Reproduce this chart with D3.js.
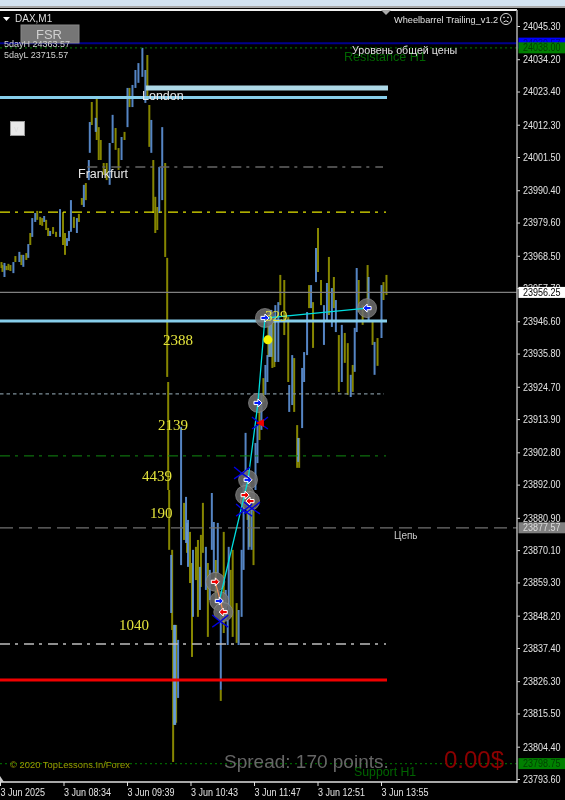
<!DOCTYPE html>
<html>
<head>
<meta charset="utf-8">
<title>DAX,M1</title>
<script src="https://cdnjs.cloudflare.com/ajax/libs/d3/7.8.5/d3.min.js"></script>
<style>
  html, body { margin: 0; padding: 0; background: #000; }
  svg { display: block; filter: blur(0.35px); }
  text { font-family: "Liberation Sans", sans-serif; }
  .num { font-family: "Liberation Serif", serif; }
</style>
</head>
<body>
<svg width="565" height="800"></svg>
<script>
// [minute from chart start, high, low]
const upBars = [
  [4,23966.1,23961.4],[13,23966.4,23962.7],[19,23969.8,23966.4],[23,23968.8,23964.8],[28,23972.4,23967.8],
  [32,23981.1,23974.8],[35,23982.8,23979.8],[44,23981.8,23979.8],[50,23976.8,23975.1],[60,23984.1,23974.8],
  [67,23974.4,23971.8],[69,23976.8,23973.4],[71,23987.1,23976.5],[77,23981.1,23976.1],[84,23992.2,23984.8],
  [89,24000.5,23993.8],[90,24013.2,24002.9],[96,24014.6,24009.9],[110,24006.2,23992.2],[113,24015.6,24006.2],
  [122,24008.2,24000.5],[128,24024.6,24011.5],[133,24025.6,24018.2],[136,24030.6,24024.6],[139,24032.9,24026.3],
  [143,24038,24028.3],[146,24030.6,24019.6],[152,24013.9,24002.9],[160,23998.2,23982.8],[163,24011.5,23987.1],
  [172,23868.5,23849.1],[175,23845.1,23811.7],[176,23845.1,23811.7],[179,23840.1,23820.7],[182,23911.3,23865.1],
  [187,23887.9,23872.5],[189,23880.2,23864.5],
  [194,23870.2,23847.8],[201,23864.5,23850.1],[207,23871.2,23856.8],[211,23863.5,23853.4],[213,23889.2,23870.2],
  [215,23879.5,23862.5],[219,23879.2,23862.5],[222,23853.4,23823.4],[227,23856.8,23846.8],[229,23846.8,23838.4],
  [230,23871.2,23850.1],[240,23850.1,23838.4],[243,23870.2,23847.8],[245,23892.6,23863.5],[247,23909.3,23890.2],
  [250,23886.9,23870.2],[253,23884.5,23870.2],[257,23905.9,23890.2],[259,23911.9,23899.2],[263,23922,23910.3],
  [267,23932,23922],[269,23935.3,23926.3],[271,23950.4,23934.7],[273,23950.4,23934.7],[277,23952,23933],[280,23953,23933],
  [291,23925.3,23916.3],[294,23935.3,23918.6],[300,23907.6,23899.6],[304,23931,23910.9],[306,23936.3,23926.3],
  [309,23949.7,23935.3],[313,23958.7,23951],[318,23971.1,23959.7],[326,23952,23938.7],[329,23959.4,23946.4],
  [334,23957.7,23944.7],[338,23953.7,23943],[344,23945.4,23926.3],[353,23928.7,23921.3],[357,23944.4,23929.7],
  [359,23964.4,23943],[371,23961.4,23946.4],[377,23939.7,23928.7],[384,23958.7,23941]
];
const downBars = [
  [1,23966.4,23964.4],[2,23965.4,23963.1],[6,23965.1,23963.7],[8,23965.8,23963.7],[10,23965.4,23963.4],
  [15,23968.4,23966.4],[21,23968.8,23965.4],[26,23969.4,23967.1],[30,23976.1,23972.1],[37,23983.5,23980.5],
  [40,23981.5,23978.8],[42,23981.1,23978.5],[46,23980.5,23977.1],[48,23977.8,23975.1],[53,23978.1,23975.8],
  [56,23976.5,23974.8],[63,23983.1,23972.1],[65,23976.1,23968.8],[74,23981.5,23977.8],[79,23982.5,23979.8],
  [82,23987.8,23985.5],[86,23992.8,23987.1],[92,24019.9,24012.2],[97,24020.9,24007.2],[99,24011.5,24000.5],
  [101,24007.2,24000.5],[104,23999.5,23995.5],[107,23999.5,23993.8],[116,24011.2,24003.9],[119,24004.5,23997.2],
  [125,24009.9,24007.2],[130,24024.6,24018.2],[148,24035.6,24021.6],[150,24018.9,24004.9],[154,24000.5,23982.8],
  [156,23988.2,23976.1],[158,23984.8,23977.1],[166,23999.5,23968.1],[168,23967.8,23928],[169,23926.3,23890.2],
  [170,23890.2,23870.2],[173,23870.2,23843.4],[174,23843.4,23799.3],[175,23845.1,23811.7],[176,23845.1,23811.7],
  [177,23845.1,23812.4],[185,23885.9,23873.5],[188,23879.2,23869.2],[191,23876.2,23859.1],[193,23865.8,23834.4],
  [197,23871.2,23860.1],[199,23873.5,23847.8],[202,23875.2,23857.8],[204,23885.9,23869.2],[209,23865.8,23841.1],
  [217,23866.8,23853.4],[222,23823.4,23819.7],[225,23876.2,23842.4],[232,23863.5,23847.8],[234,23870.2,23841.1],
  [238,23852.4,23839.1],[249,23896.9,23880.2],[251,23892.6,23871.2],[255,23887.9,23865.1],[261,23920.3,23906.9],
  [265,23927.6,23919.6],[270,23950.4,23934.7],[272,23950.4,23934.7],[274,23947.7,23931],[276,23947,23931.3],
  [282,23962.1,23952],[286,23960.4,23942],[290,23948,23926.3],[296,23934.3,23916.3],[299,23911.9,23897.6],
  [301,23907.6,23897.6],[311,23958.7,23951],[315,23953,23937.7],[320,23977.8,23963.1],[323,23960.4,23952],
  [331,23968.1,23948.7],[336,23961.4,23951],[341,23942,23923],[347,23942.7,23932.7],[350,23939.3,23922],
  [355,23932,23923],[361,23960.4,23949.7],[365,23952,23945.4],[370,23965.4,23952],[375,23946.4,23938.7],
  [380,23941,23931.7],[386,23959.7,23953.7],[389,23962.1,23955.4]
];

const priceTicks = [24045.3, 24034.2, 24023.4, 24012.3, 24001.5, 23990.4, 23979.6, 23968.5, 23957.7, 23946.6,
  23935.8, 23924.7, 23913.9, 23902.8, 23892.0, 23880.9, 23870.1, 23859.3, 23848.2, 23837.4, 23826.3, 23815.5,
  23804.4, 23793.6];
const timeTicks = [0, 64, 128, 192, 256, 320, 384];
const timeLabels = ['3 Jun 2025', '3 Jun 08:34', '3 Jun 09:39', '3 Jun 10:43', '3 Jun 11:47', '3 Jun 12:51', '3 Jun 13:55'];

// horizontal levels
const blueLevel = 24039.57;
const resistance = 24038.0;
const londonLevel = 24024.6;
const topLevel = 24021.4;
const greyLevel = 23998.2;
const yellowLevel = 23983.1;
const bidLevel = 23956.25;
const midLevel = 23946.7;
const dottedLevel = 23922.3;
const greenLevel = 23901.6;
const targetLevel = 23877.57;
const lightLevel = 23838.7;
const redLevel = 23826.7;
const support = 23798.75;

// trades
const tradeMinutes = [267, 370, 260, 250, 247, 252, 217, 221, 225];
const tradePrices = [23947.7, 23951.0, 23919.3, 23893.6, 23888.5, 23886.5, 23859.5, 23853.1, 23849.4];
const tradeSides = ['buy', 'buy', 'buy', 'buy', 'sell', 'sell', 'sell', 'buy', 'sell'];
const tradeDirs = [1, -1, 1, 1, 1, -1, 1, 1, -1];
const pathMinutes = [221, 250, 260, 267, 370];
const pathPrices = [23853.1, 23893.6, 23919.3, 23947.7, 23951.0];
const crossMinutes = [262, 222, 246, 254, 244];
const crossPrices = [23912.6, 23846.4, 23883.5, 23884.2, 23895.9];
const stopMinute = 270;
const stopPrice = 23940.4;

const svg = d3.select('svg');
const chartRight = 517;
const chartBottom = 782;

const x = d3.scaleLinear().domain([0, 384]).range([0, 381]);
const y = d3.scaleLinear().domain([23793.6, 24045.3]).range([779, 26]);

svg.append('rect').attr('width', 565).attr('height', 800).attr('fill', '#000');

// window chrome on top
svg.append('rect').attr('width', 565).attr('height', 6).attr('fill', '#d3e3f1');
svg.append('rect').attr('y', 6).attr('width', 565).attr('height', 2).attr('fill', '#a8a8a8');
svg.append('rect').attr('y', 9).attr('width', chartRight).attr('height', 2).attr('fill', '#f0f0f0');

const bars = svg.append('g').attr('clip-path', 'url(#plot)');
svg.append('clipPath').attr('id', 'plot').append('rect')
    .attr('width', chartRight).attr('height', chartBottom);

function drawBars(data, colour, opacity) {
    bars.selectAll(null)
        .data(data)
      .enter().append('line')
        .attr('x1', d => x(d[0]) + 0.5)
        .attr('x2', d => x(d[0]) + 0.5)
        .attr('y1', d => y(d[1]))
        .attr('y2', d => y(d[2]))
        .attr('stroke', colour)
        .attr('stroke-opacity', opacity)
        .attr('stroke-width', 2);
}
drawBars(downBars, '#868600', 1);
drawBars(upBars, '#649ce6', 0.85);

function hline(price, from, to, colour, width, dash) {
    svg.append('line')
        .attr('x1', x(from))
        .attr('x2', to)
        .attr('y1', y(price))
        .attr('y2', y(price))
        .attr('stroke', colour)
        .attr('stroke-width', width)
        .attr('stroke-dasharray', dash || null);
}
const endX = 387;
const dashDot = '10 5 3 6';

hline(greyLevel, 88, endX - 4, '#666', 1.5, dashDot);
hline(yellowLevel, 0, endX - 1, '#e6e600', 1.2, dashDot);
hline(bidLevel, 0, chartRight, '#808080', 1.2);
hline(dottedLevel, 0, endX - 3, '#7d8f99', 1.2, '3.5 3');
hline(greenLevel, 0, endX - 1, '#118a11', 1, dashDot);
hline(targetLevel, 0, chartRight, '#707070', 1.2, '13 6');
hline(lightLevel, 0, endX - 1, '#bdbdbd', 1.5, dashDot);
hline(blueLevel, 0, chartRight, '#00008b', 2);
hline(resistance, 0, chartRight, '#006400', 1.2, '2 3');
hline(support, 0, chartRight, '#006400', 1.2, '2 3');
hline(topLevel, 0, endX, '#87ceeb', 3);
hline(londonLevel, 147, endX + 1, '#add8e6', 5);
hline(midLevel, 0, endX, '#87ceeb', 3);
hline(redLevel, 0, endX, '#f00000', 3);

// trade marks
const marks = svg.append('g');
marks.selectAll('circle')
    .data(tradeMinutes)
  .enter().append('circle')
    .attr('cx', d => x(d))
    .attr('cy', (d, i) => y(tradePrices[i]))
    .attr('r', 9.5)
    .attr('fill', '#6e6e6e')
    .attr('fill-opacity', 0.85)
    .attr('stroke', '#999')
    .attr('stroke-opacity', 0.6);

svg.append('path')
    .attr('d', d3.line().x(d => x(d)).y((d, i) => y(pathPrices[i]))(pathMinutes))
    .attr('fill', 'none')
    .attr('stroke', '#00dede')
    .attr('stroke-width', 1.3);

// sell legs
svg.append('path')
    .attr('d', d3.line().x(i => x(tradeMinutes[i])).y(i => y(tradePrices[i]))([6, 8]))
    .attr('stroke', '#f0905a')
    .attr('stroke-width', 1.2);

const arrow = 'M-4,-1.6H0V-4L4,0L0,4V1.6H-4Z';
svg.selectAll('path.mark')
    .data(tradeMinutes)
  .enter().append('path')
    .attr('class', 'mark')
    .attr('d', arrow)
    .attr('transform', (d, i) => `translate(${x(d)}, ${y(tradePrices[i])}) scale(${tradeDirs[i]}, 1)`)
    .attr('fill', (d, i) => tradeSides[i] === 'buy' ? '#0018ff' : '#f00000')
    .attr('stroke', '#fff')
    .attr('stroke-width', 1);

const crosses = svg.selectAll('g.cross')
    .data(crossMinutes)
  .enter().append('g')
    .attr('class', 'cross')
    .attr('transform', (d, i) => `translate(${x(d)}, ${y(crossPrices[i])})`);
crosses.append('path')
    .attr('d', 'M-8,-6Q0,1 8,6M8,-6Q0,1 -8,6')
    .attr('fill', 'none')
    .attr('stroke', '#0000e0')
    .attr('stroke-width', 1.4);
crosses.filter((d, i) => i === 0).append('path')
    .attr('d', 'M-4,0L4,-4V4Z')
    .attr('fill', '#f00000');

svg.append('circle')
    .attr('cx', x(stopMinute))
    .attr('cy', y(stopPrice))
    .attr('r', 4.5)
    .attr('fill', '#f4f400');

// yellow trade numbers
const yellowNums = [[163, 345, '2388'], [158, 430, '2139'], [142, 481, '4439'], [150, 518, '190'], [119, 630, '1040'], [265, 321, '329']];
svg.selectAll(null)
    .data(yellowNums)
  .enter().append('text')
    .attr('class', 'num')
    .attr('x', d => d[0])
    .attr('y', d => d[1])
    .attr('font-size', 15)
    .attr('fill', '#e4e43c')
    .text(d => d[2]);

// price axis
const yAxis = d3.axisRight(y)
    .tickValues(priceTicks)
    .tickSize(3)
    .tickPadding(3)
    .tickFormat(d3.format('.2f'));
const yG = svg.append('g')
    .attr('transform', `translate(${chartRight}, 0)`)
    .call(yAxis);
yG.select('.domain').remove();
yG.selectAll('line').attr('stroke', '#ddd');
yG.selectAll('text')
    .attr('x', 0)
    .attr('transform', 'translate(6, 0) scale(0.86, 1)')
    .attr('fill', '#e4e4e4')
    .attr('font-size', 10.5)
    .attr('font-family', '"Liberation Sans"');
svg.append('line')
    .attr('x1', chartRight).attr('x2', chartRight)
    .attr('y1', 10).attr('y2', chartBottom + 1)
    .attr('stroke', '#b0b0b0').attr('stroke-width', 1.5);

// time axis
const xAxis = d3.axisBottom(x)
    .tickValues(timeTicks)
    .tickSize(4)
    .tickPadding(3)
    .tickFormat((d, i) => timeLabels[i]);
const xG = svg.append('g')
    .attr('transform', `translate(0, ${chartBottom})`)
    .call(xAxis);
xG.select('.domain').remove();
xG.selectAll('line').attr('stroke', '#ddd');
xG.selectAll('text')
    .attr('text-anchor', 'start')
    .attr('transform', 'scale(0.9, 1)')
    .attr('fill', '#e4e4e4')
    .attr('font-size', 10)
    .attr('font-family', '"Liberation Sans"');
svg.append('line')
    .attr('x1', 0).attr('x2', chartRight)
    .attr('y1', chartBottom).attr('y2', chartBottom)
    .attr('stroke', '#e0e0e0').attr('stroke-width', 1.5);
svg.append('path').attr('d', 'M0,776L4,782H0Z').attr('fill', '#ccc');

// price tags on the right
function tag(price, fill, colour, label) {
    const cy = y(price);
    svg.append('rect')
        .attr('x', 518.5).attr('y', cy - 5.5)
        .attr('width', 46.5).attr('height', 11)
        .attr('fill', fill);
    svg.append('text')
        .attr('transform', `translate(523, ${cy + 3.5}) scale(0.86, 1)`)
        .attr('font-size', 10.5)
        .attr('fill', colour)
        .text(label);
}
tag(blueLevel, '#0000ff', '#00008b', d3.format('.2f')(blueLevel));
tag(resistance, '#008000', '#013f01', d3.format('.2f')(resistance));
tag(bidLevel, '#fff', '#000', d3.format('.2f')(bidLevel));
tag(targetLevel, '#808080', '#ddd', d3.format('.2f')(targetLevel));
tag(support, '#008000', '#013f01', d3.format('.2f')(support));

// labels
function label(px, py, str, size, colour, family) {
    return svg.append('text')
        .attr('x', px).attr('y', py)
        .attr('font-size', size)
        .attr('fill', colour)
        .attr('font-family', family || null)
        .text(str);
}
svg.append('path').attr('d', 'M3,17H10L6.5,21Z').attr('fill', '#fff');
label(15, 22, 'DAX,M1', 10, '#ddd');

svg.append('rect')
    .attr('x', 21).attr('y', 25).attr('width', 58).attr('height', 18)
    .attr('fill', '#767676').attr('stroke', '#888');
label(36, 39, 'FSR', 13, '#d0d0d0');
label(4, 47, '5dayH 24363.57', 9, '#d0d0d0');
label(4, 58, '5dayL 23715.57', 9, '#d0d0d0');

svg.append('rect')
    .attr('x', 10.5).attr('y', 121.5).attr('width', 14).attr('height', 14)
    .attr('fill', '#e8e8e8').attr('stroke', '#999');
label(14, 132, 'v', 9, '#ddd');

label(78, 178, 'Frankfurt', 12.5, '#e8e8e8');
label(142, 100, 'London', 12.5, '#e8e8e8');
label(344, 61, 'Resistance H1', 12.6, '#006400');
label(352, 54, 'Уровень общей цены', 10.7, '#e0e0e0');
label(394, 23, 'Wheelbarrel Trailing_v1.2', 9.2, '#e0e0e0');
label(394, 539, 'Цепь', 10, '#c8c8c8');
label(10, 768, '© 2020 TopLessons.In/Forex', 9.4, '#9a9a00');
label(224, 768, 'Spread: 170 points.', 19, '#666');
label(444, 768, '0.00$', 24, '#8b0000');
label(354, 776, 'Support H1', 12.3, '#006400');

// top marker and the sad face
svg.append('path').attr('d', 'M381,10H391L386,15Z').attr('fill', '#aaa');
const face = svg.append('g').attr('transform', 'translate(506, 19)').attr('fill', 'none').attr('stroke', '#ddd');
face.append('circle').attr('r', 5.5);
face.append('circle').attr('cx', -2).attr('cy', -1.5).attr('r', 0.5);
face.append('circle').attr('cx', 2).attr('cy', -1.5).attr('r', 0.5);
face.append('path').attr('d', 'M-2.5,3Q0,0.5 2.5,3');
</script>
</body>
</html>
